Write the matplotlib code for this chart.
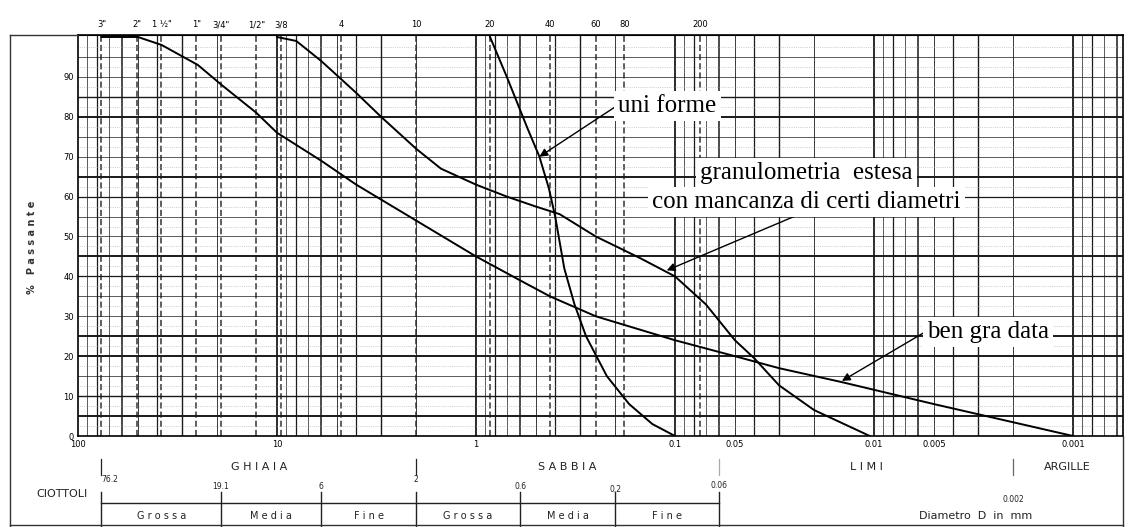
import numpy as np
import matplotlib
matplotlib.use('Agg')
import matplotlib.pyplot as plt

W, H = 1134, 527

# curva "ben gradata"
d_ben = [76.2, 50, 38, 25, 19, 12.7, 10, 6, 4, 2, 1, 0.6, 0.425, 0.25, 0.1, 0.05, 0.03, 0.0145, 0.005, 0.001]
p_ben = [100, 100, 98, 93, 88, 81, 76, 69, 63, 54, 45, 39, 35, 30, 24, 20, 17, 13.5, 8, 0]

# curva "uniforme"
d_uni = [0.85, 0.7, 0.55, 0.48, 0.43, 0.40, 0.36, 0.32, 0.28, 0.22, 0.17, 0.13, 0.1]
p_uni = [100, 90, 77, 70, 62, 55, 42, 33, 25, 15, 8, 3, 0]

# curva "granulometria estesa con mancanza di certi diametri"
d_gap = [10, 8, 6, 4, 3, 2, 1.5, 1, 0.7, 0.5, 0.38, 0.25, 0.15, 0.1, 0.07, 0.05, 0.04, 0.03, 0.02, 0.0105]
p_gap = [100, 99, 94, 86, 80, 72, 67, 63, 60, 57.5, 55.6, 50, 44.6, 40, 33, 24, 19.5, 12.7, 6.5, 0]

x_ticks = [100, 10, 1, 0.1, 0.05, 0.01, 0.005, 0.001]
x_ticklabels = ['100', '10', '1', '0.1', '0.05', '0.01', '0.005', '0.001']
sieve_d = [76.2, 50.8, 38.1, 25.4, 19.05, 12.7, 9.525, 4.75, 2.0, 0.85, 0.425, 0.25, 0.18, 0.075]
sieve_lab = ['3"', '2"', '1 ½"', '1"', '3/4"', '1/2"', '3/8', '4', '10', '20', '40', '60', '80', '200']

classi = ['G H I A I A', 'S A B B I A', 'L I M I', 'A R G I L L E']
classi_lim = [(76.2, 2), (2, 0.06), (0.06, 0.002), (0.002, 0.00056)]
sotto_lim = [76.2, 19.1, 6, 2, 0.6, 0.2, 0.06]
sotto_lab = ['G r o s s a', 'M e d i a', 'F i n e', 'G r o s s a', 'M e d i a', 'F i n e']

fig = plt.figure(figsize=(W / 100, H / 100), dpi=100)
X0, X1, Y0, Y1 = 78, 1123, 35, 436
ax = fig.add_axes([X0 / W, 1 - Y1 / H, (X1 - X0) / W, (Y1 - Y0) / H])
ax.set_xscale('log')
ax.set_xlim(100, 100 / 10 ** ((X1 - X0) / 199))
ax.set_ylim(0, 100.5)

# griglia verticale
wmap = {1: 1.3, 2: 0.6, 3: 1.0, 4: 0.9, 5: 0.6, 6: 1.1, 7: 0.5, 8: 0.9, 9: 0.5}
for e in range(-4, 2):
    for k in range(1, 10):
        v = k * 10.0 ** e
        if 0.00056 < v < 100:
            ax.axvline(v, color='#1a1a1a', lw=wmap[k], zorder=1)
for v in sieve_d:
    ax.axvline(v, color='#333333', lw=1.1, ls=(0, (4, 2)), zorder=1)

# griglia orizzontale
hw = {5: 1.4, 10: 1.0, 15: 0.5, 20: 1.4, 25: 1.4, 30: 0.5, 35: 0.5, 40: 0.9, 45: 1.4,
      50: 0.5, 55: 0.5, 60: 0.9, 65: 1.4, 70: 0.5, 75: 0.5, 80: 1.4, 85: 1.0, 90: 0.5, 95: 0.5}
for yv, lw in hw.items():
    ax.axhline(yv, color='#1a1a1a', lw=lw, zorder=1)
for yv in np.arange(2.5, 100, 5):
    ax.axhline(yv, color='#aaaaaa', lw=0.5, ls=':', zorder=1)

for s in ax.spines.values():
    s.set_linewidth(1.2)

# curve
ax.plot(d_ben, p_ben, color='black', lw=1.4, zorder=3)
ax.plot(d_uni, p_uni, color='black', lw=1.4, zorder=3)
ax.plot(d_gap, p_gap, color='black', lw=1.4, zorder=3)

ax.set_xticks(x_ticks)
ax.set_xticklabels(x_ticklabels, fontsize=6)
ax.xaxis.set_minor_locator(matplotlib.ticker.NullLocator())
ax.set_yticks(range(0, 100, 10))
ax.set_yticklabels([str(v) for v in range(0, 100, 10)], fontsize=6)
ax.tick_params(length=0, pad=3)

sec = ax.secondary_xaxis('top')
sec.set_xticks(sieve_d)
sec.set_xticklabels(sieve_lab, fontsize=6)
sec.xaxis.set_minor_locator(matplotlib.ticker.NullLocator())
sec.tick_params(length=0, pad=4)

fig.text(32 / W, 1 - 247 / H, '%   P a s s a n t e', rotation=90, fontsize=7,
         ha='center', va='center', fontweight='bold', color='#333333')

# annotazioni
serif = 'Liberation Serif'
box = dict(fc='white', ec='none', pad=3)
arrow = dict(arrowstyle='-|>', color='black', lw=1.0, mutation_scale=12, shrinkA=0, shrinkB=0)
ax.annotate('', xy=(0.48, 70), xytext=(615, H - 107), textcoords='figure pixels',
            arrowprops=arrow, zorder=5)
fig.text(618 / W, 1 - 112 / H, 'uni forme', family=serif, fontsize=18, va='baseline',
         ha='left', bbox=box, zorder=6)
ax.annotate('', xy=(0.11, 41.5), xytext=(800, H - 214), textcoords='figure pixels',
            arrowprops=arrow, zorder=5)
fig.text(806 / W, 1 - 179 / H, 'granulometria  estesa', family=serif, fontsize=18,
         va='baseline', ha='center', bbox=box, zorder=6)
fig.text(806 / W, 1 - 208 / H, 'con mancanza di certi diametri', family=serif, fontsize=18,
         va='baseline', ha='center', bbox=box, zorder=6)
ax.annotate('', xy=(0.0145, 13.8), xytext=(925, H - 332), textcoords='figure pixels',
            arrowprops=arrow, zorder=5)
fig.text(927 / W, 1 - 338 / H, 'ben gra data', family=serif, fontsize=18, va='baseline',
         ha='left', bbox=box, zorder=6)

# fascia inferiore delle classi granulometriche
tr = ax.get_xaxis_transform()


def fy(yp):
    return (Y1 - yp) / (Y1 - Y0)


for lab, (a, b) in zip(classi, classi_lim):
    xm = np.sqrt(a * b)
    if lab.startswith('A R'):
        xm = 0.00107
        lab = 'ARGILLE'
    ax.text(xm, fy(467), lab, transform=tr, ha='center', va='center', fontsize=8,
            color='#222222', clip_on=False)
for v, c in [(76.2, '#222222'), (2, '#222222'), (0.06, '#aaaaaa'), (0.002, '#666666')]:
    ax.plot([v, v], [fy(459), fy(475)], transform=tr, color=c, lw=0.9, clip_on=False)

num_pos = [(76.2, '76.2', 480, 'left'), (19.1, '19.1', 487, 'center'), (6, '6', 487, 'center'),
           (2, '2', 480, 'center'), (0.6, '0.6', 487, 'center'), (0.2, '0.2', 490, 'center'),
           (0.06, '0.06', 486, 'center'), (0.002, '0.002', 500, 'center')]
for v, t, yp, ha in num_pos:
    ax.text(v, fy(yp), t, transform=tr, ha=ha, va='center', fontsize=5.5,
            color='#222222', clip_on=False)

ax.plot([76.2, 0.06], [fy(503), fy(503)], transform=tr, color='#222222', lw=1.0, clip_on=False)
for v in sotto_lim:
    ax.plot([v, v], [fy(492), fy(527)], transform=tr, color='#222222', lw=1.0, clip_on=False)
for i, lab in enumerate(sotto_lab):
    xm = np.sqrt(sotto_lim[i] * sotto_lim[i + 1])
    ax.text(xm, fy(516), lab, transform=tr, ha='center', va='center', fontsize=7,
            color='#222222', clip_on=False)
ax.text(0.0031, fy(516), 'Diametro  D  in  mm', transform=tr, ha='center', va='center',
        fontsize=8, color='#222222', clip_on=False)
fig.text(62 / W, 1 - 494 / H, 'CIOTTOLI', ha='center', va='center', fontsize=8, color='#222222')

# cornice esterna
fig.add_artist(plt.Line2D([10 / W, 10 / W], [0, 1 - Y0 / H], color='#333333', lw=1.0))
fig.add_artist(plt.Line2D([10 / W, X0 / W], [1 - Y0 / H, 1 - Y0 / H], color='#333333', lw=1.0))
fig.add_artist(plt.Line2D([10 / W, X1 / W], [1 - 525 / H, 1 - 525 / H], color='#333333', lw=1.0))
fig.add_artist(plt.Line2D([X1 / W, X1 / W], [0, 1 - Y1 / H], color='#333333', lw=1.0))

fig.savefig('out.png', dpi=100)
